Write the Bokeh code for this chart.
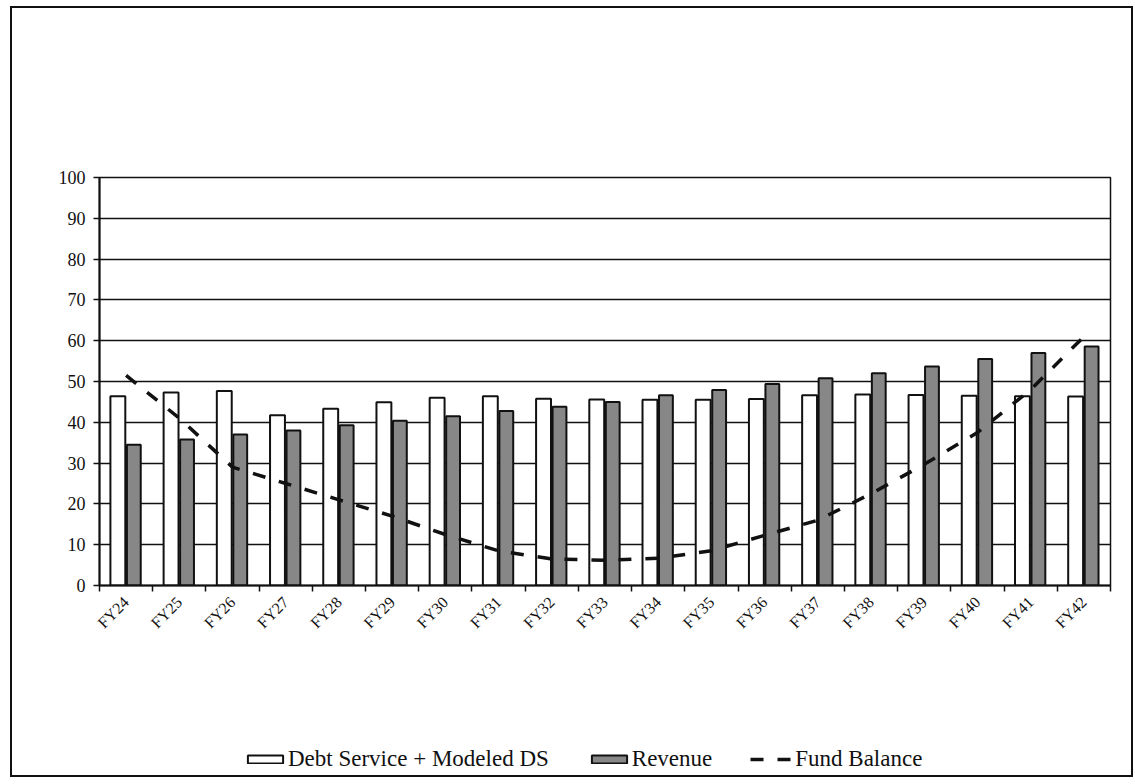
import numpy as np
from bokeh.plotting import figure
from bokeh.layouts import column
from bokeh.models import (ColumnDataSource, FixedTicker, Legend, LegendItem, Range1d)
from bokeh.transform import dodge
from bokeh.embed import file_html
from bokeh.resources import INLINE

# Fiscal years on the category axis
years = ["FY24", "FY25", "FY26", "FY27", "FY28", "FY29", "FY30", "FY31", "FY32", "FY33",
         "FY34", "FY35", "FY36", "FY37", "FY38", "FY39", "FY40", "FY41", "FY42"]

# Series values
debt_service = [46.4, 47.3, 47.7, 41.7, 43.3, 44.9, 46.0, 46.4, 45.8, 45.6,
                45.5, 45.5, 45.7, 46.6, 46.8, 46.7, 46.5, 46.4, 46.3]
revenue = [34.5, 35.8, 37.0, 38.0, 39.3, 40.4, 41.5, 42.8, 43.8, 45.0,
           46.6, 47.9, 49.4, 50.8, 52.0, 53.7, 55.5, 57.0, 58.6]
fund_balance = [51.5, 41.0, 29.0, 25.0, 21.0, 17.0, 12.5, 8.5, 6.5, 6.2,
                6.7, 8.5, 12.3, 16.0, 22.5, 29.7, 37.5, 48.0, 61.0]

y_ticks = list(range(0, 101, 10))
series_names = ["Debt Service + Modeled DS", "Revenue", "Fund Balance"]

SERIF = "Liberation Serif"
INK = "#111"
REV_GRAY = "#878787"

idx = list(range(len(years)))
src = ColumnDataSource(dict(x=idx, ds=debt_service, rev=revenue, fb=fund_balance))

# ---- main chart -------------------------------------------------------
p = figure(width=1119, height=727, output_backend="svg", toolbar_location=None,
           x_range=Range1d(-0.5, len(years) - 0.5), y_range=Range1d(0, 100),
           min_border_left=87, min_border_right=21, min_border_top=169, min_border_bottom=150)
p.background_fill_color = "white"
p.border_fill_color = "white"
p.outline_line_color = INK
p.outline_line_width = 1.5

# horizontal rules only
p.xgrid.grid_line_color = None
p.ygrid.ticker = FixedTicker(ticks=y_ticks)
p.ygrid.grid_line_color = INK
p.ygrid.grid_line_width = 1.5

yax = p.yaxis[0]
yax.ticker = FixedTicker(ticks=y_ticks)
yax.axis_line_color = INK
yax.axis_line_width = 2
yax.major_tick_line_color = INK
yax.major_tick_line_width = 1.5
yax.major_tick_out = 6
yax.major_tick_in = 0
yax.minor_tick_line_color = None
yax.major_label_text_font = SERIF
yax.major_label_text_font_size = "18px"
yax.major_label_text_color = INK
yax.major_label_standoff = 8

# labels at category centres, tick marks at category boundaries
xax = p.xaxis[0]
xax.ticker = FixedTicker(ticks=idx, minor_ticks=[i - 0.5 for i in range(len(years) + 1)])
xax.major_label_overrides = {i: y for i, y in zip(idx, years)}
xax.major_label_orientation = np.pi / 4
xax.axis_line_color = INK
xax.axis_line_width = 2
xax.major_tick_line_color = None
xax.minor_tick_line_color = INK
xax.minor_tick_line_width = 1.5
xax.minor_tick_out = 6
xax.minor_tick_in = 0
xax.major_label_text_font = SERIF
xax.major_label_text_font_size = "16px"
xax.major_label_text_color = INK
xax.major_label_standoff = 8

bar_ds = dict(fill_color="white", line_color=INK, line_width=2)
bar_rev = dict(fill_color=REV_GRAY, line_color=INK, line_width=2)
line_fb = dict(line_color=INK, line_width=3.5, line_dash="13 14")

p.vbar(x=dodge("x", -0.155, range=p.x_range), top="ds", width=0.28, source=src, **bar_ds)
p.vbar(x=dodge("x", 0.145, range=p.x_range), top="rev", width=0.26, source=src, **bar_rev)
p.line(x="x", y="fb", source=src, **line_fb)

# ---- legend strip under the chart --------------------------------------
# Hidden copies of the three series supply the legend keys.
lf = figure(width=1119, height=40, output_backend="svg", toolbar_location=None,
            x_range=Range1d(-0.5, len(years) - 0.5), y_range=Range1d(0, 100),
            x_axis_type=None, y_axis_type=None, min_border=0)
lf.outline_line_color = None
lf.background_fill_color = "white"
lf.border_fill_color = "white"
lf.grid.grid_line_color = None

k_ds = lf.vbar(x="x", top="ds", width=0.28, source=src, visible=False, **bar_ds)
k_rev = lf.vbar(x="x", top="rev", width=0.26, source=src, visible=False, **bar_rev)
k_fb = lf.line(x="x", y="fb", source=src, visible=False, **line_fb)

legend = Legend(items=[LegendItem(label=n, renderers=[r])
                       for n, r in zip(series_names, [k_ds, k_rev, k_fb])],
                orientation="horizontal", location=(144, 3))
legend.label_text_font = SERIF
legend.label_text_font_size = "23px"
legend.label_text_color = INK
legend.glyph_width = 44
legend.glyph_height = 10
legend.label_standoff = 1
legend.spacing = 38
legend.padding = 0
legend.margin = 0
legend.border_line_color = None
legend.background_fill_alpha = 0
legend.inactive_fill_alpha = 0
lf.add_layout(legend, "center")

page = column(p, lf, spacing=0)
page.margin = (6, 0, 0, 10)
page.styles = {"border": "2px solid #111", "background": "white"}

open("out.html", "w").write(file_html(page, INLINE))
